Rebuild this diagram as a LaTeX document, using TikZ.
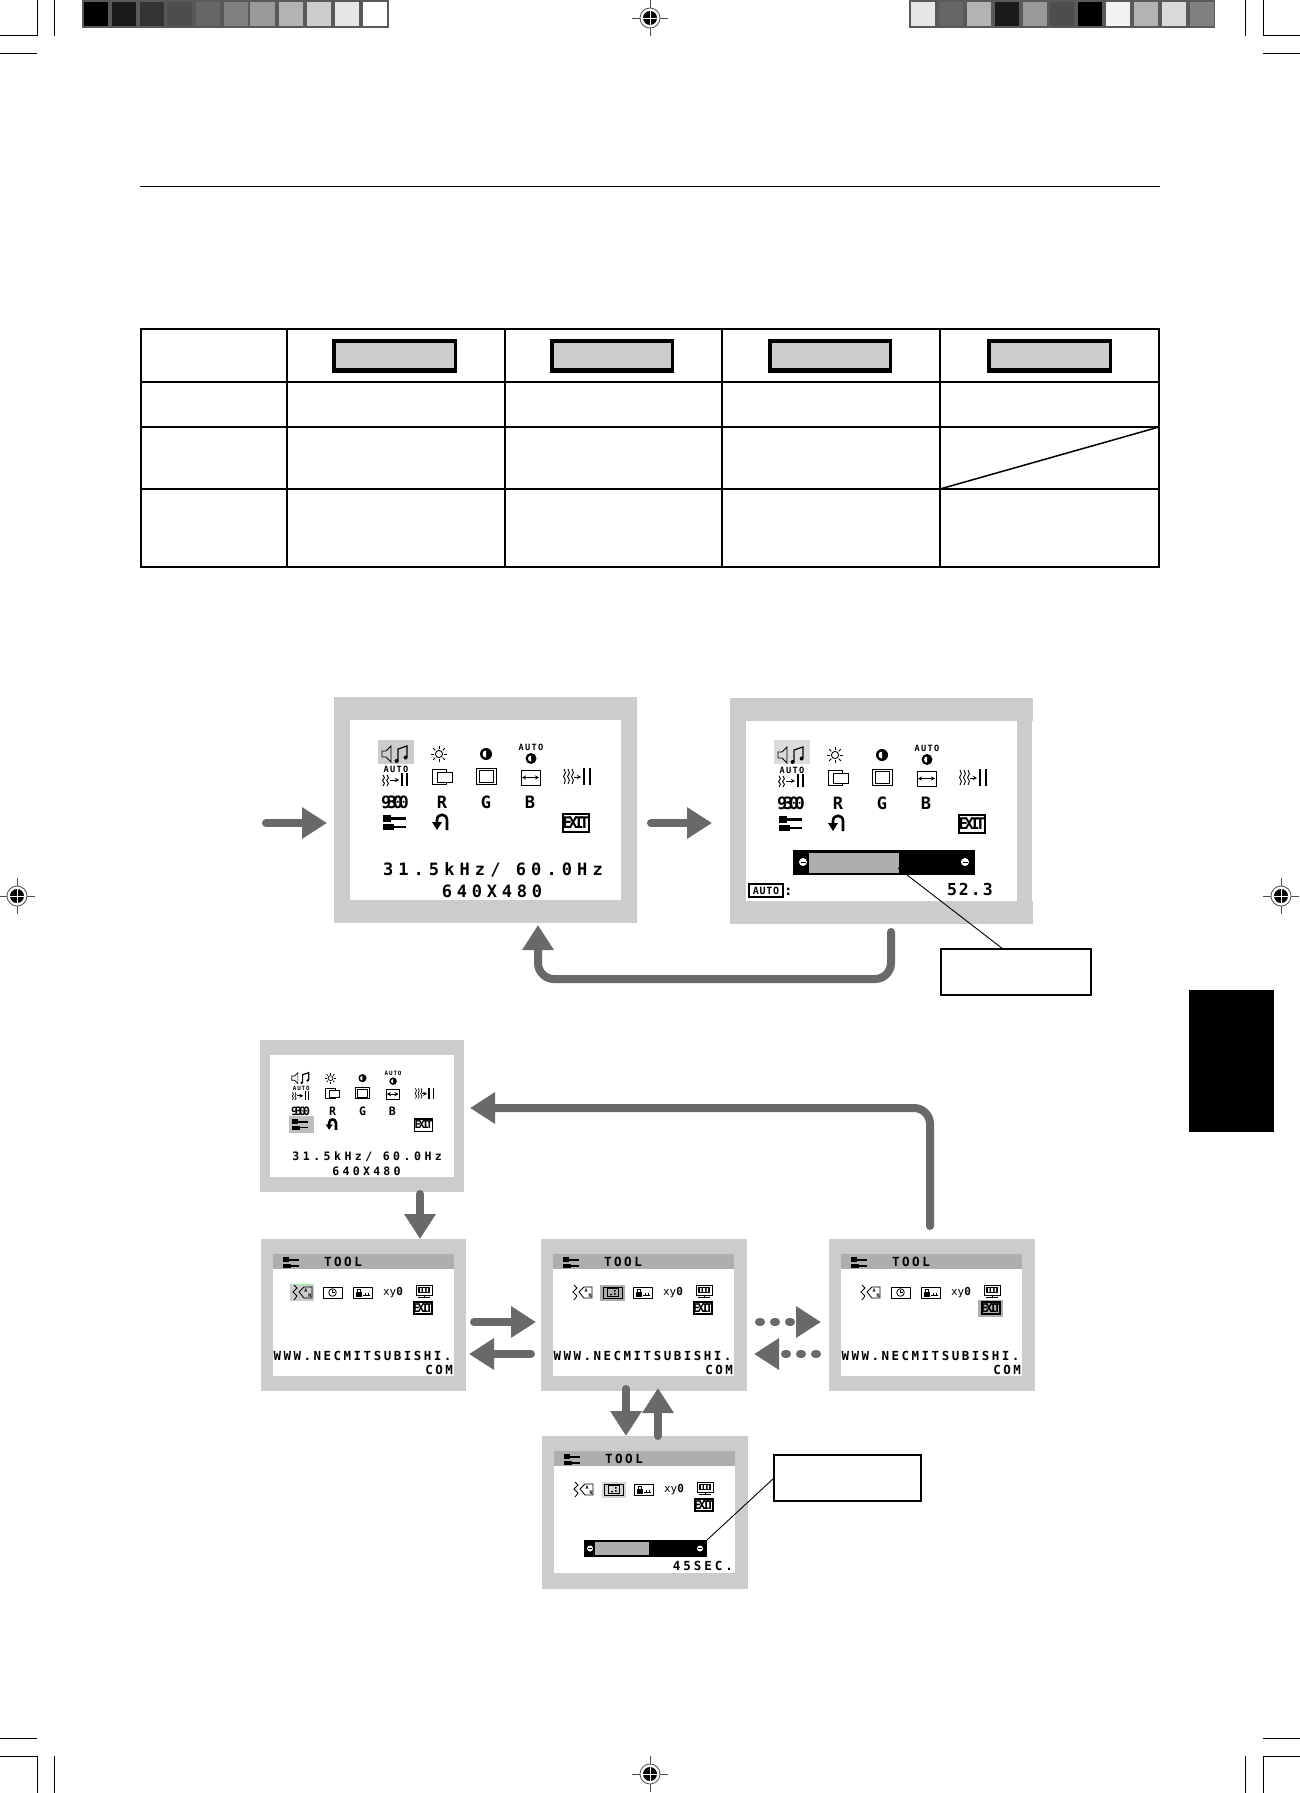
\documentclass[tikz,border=0pt]{standalone}
\usepackage{fontspec}
\usetikzlibrary{arrows.meta}
\newfontfamily\osdf{DejaVu Sans Mono}
\newcommand\osd[3]{{\osdf\bfseries\addfontfeatures{LetterSpace=#2}\fontsize{#1}{#1}\selectfont #3}}
\definecolor{arrowgrey}{HTML}{696969}
\definecolor{panelgrey}{HTML}{CCCCCC}
\definecolor{bargrey}{HTML}{AEAEAE}
\tikzset{
  panel/.style={fill=panelgrey,anchor=north west,inner sep=0pt,outer sep=0pt,minimum width=#1},
  screen/.style={fill=white},
  ico/.style={line width=.9pt,black},
  txt/.style={inner sep=0pt,outer sep=0pt,anchor=base,text=black},
  txtw/.style={inner sep=0pt,outer sep=0pt,anchor=base west,text=black},
  txte/.style={inner sep=0pt,outer sep=0pt,anchor=base east,text=black},
  flow/.style={draw=arrowgrey,line width=8pt,line cap=round,-{Triangle[length=25pt,width=30pt,fill=arrowgrey]}},
  dotflow/.style={flow,dash pattern=on 2pt off 13pt},
  callout/.style={draw=black,line width=1.5pt,fill=white,anchor=north west,inner sep=0pt,outer sep=0pt},
  leader/.style={draw=black,line width=.9pt},
  slider/.style={fill=black,anchor=north west,inner sep=0pt,outer sep=0pt},
  tbl/.style={line width=2pt,black},
  tblv/.style={line width=1.4pt,black},
  crop/.style={line width=1pt,black},
}
\newcommand\wv[3]{\draw[ico] (#1,#2)--++(1.4,#3/4)--++(-1.8,#3/4)--++(1.8,#3/4)--++(-1.4,#3/4);}
\newcommand\wrench[3]{\begin{scope}[shift={(#1,#2)},scale=#3]
  \fill[black] (0,.5) rectangle (8,7.5);
  \fill[black] (8,2.6) rectangle (23,5.6);
  \fill[black] (0,10) rectangle (11,16);
  \fill[black] (11,12) rectangle (23,14);
\end{scope}}
\newcommand\exitbox[6]{% x0 y0 x1 y1 size ls
  \draw[line width=1.2pt,black] (#1,#2) rectangle (#3,#4);
  \node[txt] (exit) at ({(#1+#3)/2},{(#2+#4)/2+.36*#5}) {\osd{#5}{#6}{EXIT}};}
\newcommand\menuicons{%
  \draw[ico] (32,31)--(36,31)--(41,26)--(41,42)--(36,37)--(32,37)--cycle;
  \draw[ico,line width=1.2pt] (48,41)--(48,29)--(57,26)--(57,37);
  \fill[black] (46.6,41) circle[radius=2pt] (55.6,37.5) circle[radius=2pt];
  \draw[ico] (89,34) circle[radius=3.6pt];
  \foreach \a in {0,45,...,315} \draw[ico] (89,34) ++(\a:5.2) -- ++(\a:3);
  \fill[black] (136,34) circle[radius=6pt];
  \fill[white] (136,30.5) arc[start angle=90,end angle=270,radius=3.5pt] -- cycle;
  \node[txt] (autoa) at (181,30) {\osd{8.6}{15}{AUTO}};
  \fill[black] (181,38.5) circle[radius=5.5pt];
  \fill[white] (181,35.5) arc[start angle=90,end angle=270,radius=3pt] -- cycle;
  \node[txt] (autob) at (46,52.7) {\osd{8.6}{15}{AUTO}};
  \wv{33}{55}{11}\wv{37}{55}{11}
  \draw[ico,-{Stealth[length=4pt,width=4pt]}] (40,60)--(49,60);
  \draw[ico,line width=1.3pt] (52,53)--(52,66) (57,53)--(57,66);
  \draw[ico] (82,49) rectangle (96,64);
  \draw[ico,fill=white] (87,52) rectangle (102,62);
  \draw[ico] (126,48) rectangle (146,64);
  \draw[ico] (129,50) rectangle (143,62);
  \draw[ico] (171,50) rectangle (190,65);
  \draw[ico,{Stealth[length=4pt,width=4pt]}-{Stealth[length=4pt,width=4pt]}] (172,57.5)--(189,57.5);
  \wv{214}{49}{15}\wv{218}{49}{15}\wv{222}{49}{15}
  \draw[ico,-{Stealth[length=4pt,width=4pt]}] (224,57)--(231,57);
  \draw[ico,line width=1.3pt] (234,48)--(234,65) (240,48)--(240,65);
  \node[txt] (nineK) at (45,88.3) {\osd{17}{-26}{9300}};
  \node[txt] (r) at (92,88.3) {\osd{17}{0}{R}};
  \node[txt] (g) at (136,88.3) {\osd{17}{0}{G}};
  \node[txt] (b) at (180,88.3) {\osd{17}{0}{B}};
  \wrench{33}{94}{1}
  \draw[black,line width=2.6pt] (97,110)--(97,100) .. controls (97,93) and (87,93) .. (87,100)--(87,103);
  \fill[black] (82,102)--(92,102)--(87,110)--cycle;
  \exitbox{213}{94}{239}{112}{16}{-25}
}
\newcommand\toolicons[1]{%
  \fill[bargrey] (0,0) rectangle (181,15);
  \wrench{10}{3}{.7}
  \node[txtw] (tooltitle) at (51,12.7) {\osd{12.6}{20}{TOOL}};
  \toolrow{#1}
  \node[txtw] (www) at (.5,106.7) {\osd{12.5}{20}{WWW.NECMITSUBISHI.}};
  \node[txte] (com) at (180,120) {\osd{12.5}{20}{COM}};
}
\newcommand\toolrow[1]{%
  \draw[ico,line width=.8pt] (21,31)--(24,34)--(20,38)--(24,42)--(21,46);
  \draw[ico,line width=.8pt] (39,33)--(31,33)--(26,38)--(31,44)--(39,44)--cycle;
  \node[txt] (la) at (33,38) {\osd{5}{0}{A}};
  \node[txt] (ln) at (37,43) {\osd{5}{0}{N}};
  \draw[ico,line width=.8pt] (50,33) rectangle (69,44);
  #1
  \draw[ico,line width=.8pt] (80,33) rectangle (99,44);
  \fill[black] (83,38) rectangle (89,43);
  \draw[ico,line width=.8pt] (84.5,38)--(84.5,35.5)--(87.5,35.5)--(87.5,38);
  \draw[ico,line width=.8pt] (90,41)--(97,41) (92,38.5)--(92,41) (95,38.5)--(95,41);
  \node[txt] (xyo) at (120,41.7) {{\osdf\fontsize{11}{11}\selectfont xy\bfseries 0}};
  \draw[ico,line width=.8pt] (143,31) rectangle (159,41);
  \fill[black] (145,33) rectangle (157,39);
  \fill[white] (147,34) rectangle (148.5,38) (150,34) rectangle (152,38) (153.5,34) rectangle (155,38);
  \draw[ico,line width=.8pt] (151,41)--(151,43) (145,43.6)--(157,43.6);
  \exitbox{141}{48}{159}{60}{12}{-25}
}
\newcommand\clockplain{\draw[ico,line width=.8pt] (59.5,38.5) circle[radius=3.8pt];
  \draw[ico,line width=.8pt] (59.5,36)--(59.5,38.5)--(62,38.5);}
\newcommand\clockalt{\draw[ico,line width=.8pt] (54,34.5) rectangle (65,42.5);
  \fill[black] (61,36) rectangle (62.5,37.5) (61,39) rectangle (62.5,40.5) (57,40) rectangle (59,41);}
\newcommand\regmark[2]{\begin{scope}[shift={(#1,#2)}]
  \draw[line width=.8pt,black!70] (-18,0)--(18,0) (0,-18)--(0,18);
  \draw[line width=.8pt,black!70,fill=white] (0,0) circle[radius=10pt];
  \fill[black] (0,0) circle[radius=7pt];
  \draw[white,line width=.9pt] (-7,0)--(7,0) (0,-7)--(0,7);
\end{scope}}
\begin{document}
\begin{tikzpicture}[x=1pt,y=-1pt]
\useasboundingbox (0,0) rectangle (1300,1793);
\fill[white] (0,0) rectangle (1300,1793);
% crop marks
\draw[crop] (0,36)--(37,36)--(37,0) (54,0)--(54,36) (0,54)--(37,54);
\draw[crop] (1300,36)--(1263,36)--(1263,0) (1245,0)--(1245,36) (1300,54)--(1263,54);
\draw[crop] (0,1756)--(37,1756)--(37,1793) (54,1793)--(54,1756) (0,1738)--(37,1738);
\draw[crop] (1300,1756)--(1263,1756)--(1263,1793) (1245,1793)--(1245,1756) (1300,1738)--(1263,1738);
\regmark{650}{18}\regmark{650}{1774}\regmark{17}{896}\regmark{1281}{896}
% colour bars
\fill[black!65] (82,0) rectangle (389,28);
\foreach \x/\c in {83.5/000000,111.6/1A1A1A,139.7/333333,167.4/4D4D4D,195.5/666666,223.7/808080,250.4/999999,278.6/B3B3B3,306.7/CCCCCC,334.8/E6E6E6,363/FFFFFF}{
  \definecolor{sw}{HTML}{\c}\fill[sw] (\x,2) rectangle ++(24.3,24);}
\fill[black!65] (909,0) rectangle (1215,28);
\foreach \x/\c in {911/E6E6E6,939/666666,967/B3B3B3,995/1A1A1A,1023/999999,1050/4D4D4D,1078/000000,1106/F2F2F2,1134/B3B3B3,1162/D9D9D9,1190/808080}{
  \definecolor{sw}{HTML}{\c}\fill[sw] (\x,2) rectangle ++(24.3,24);}
% rule
\draw[line width=1pt,black] (140,186)--(1160,186);
% table
\foreach \x/\xb in {332/457,550/674,768/892,987/1112}{
  \fill[black] (\x,339) rectangle (\xb,373);
  \fill[panelgrey] (\x+3.5,343) rectangle (\xb-3.5,368);}
\draw[tbl] (141,329) rectangle (1159,567);
\draw[tbl] (141,382)--(1159,382) (141,427)--(1159,427) (141,489)--(1159,489);
\draw[tblv] (287,329)--(287,567) (505,329)--(505,567) (722,329)--(722,567) (940,329)--(940,567);
\draw[line width=1.5pt,black] (940,489)--(1159,427);
% black tab
\fill[black] (1189,990) rectangle (1274,1132);
% panels
\node[panel=303pt,minimum height=226pt] (pA) at (334,697) {};
\node[panel=303pt,minimum height=226pt] (pB) at (730,698) {};
\node[panel=204pt,minimum height=152pt] (pC) at (260,1040) {};
\node[panel=205pt,minimum height=152pt] (pD) at (261,1239) {};
\node[panel=206pt,minimum height=152pt] (pE) at (541,1239) {};
\node[panel=206pt,minimum height=152pt] (pF) at (829,1239) {};
\node[panel=206pt,minimum height=153pt] (pG) at (542,1436) {};
% panel A
\begin{scope}[shift={(350,720)},name prefix=a-]
  \fill[screen] (0,0) rectangle (271,180);
  \fill[panelgrey] (28,20) rectangle (64,44);
  \menuicons
  \node[txtw] (freq) at (33,155.3) {\osd{17}{30}{31.5kHz/ 60.0Hz}};
  \node[txt] (res) at (142,177.7) {\osd{17}{28}{640X480}};
\end{scope}
% panel B
\begin{scope}[shift={(746,721)},name prefix=b-]
  \fill[screen] (0,0) rectangle (271,180);
  \fill[white] (286,0) rectangle (287,180);
  \fill[panelgrey!70] (28,19) rectangle (64,43);
  \menuicons
\end{scope}
\node[slider,minimum width=182pt,minimum height=25pt] (sB) at (793,850) {};
\fill[bargrey] (809,853) rectangle (899,873);
\fill[white] (803,862) circle[radius=4pt] (965,862) circle[radius=4pt];
\draw[black,line width=1pt] (800.5,862)--(805.5,862) (962.5,862)--(967.5,862);
\draw[line width=1.3pt,black] (749,884) rectangle (783,897);
\node[txt] (autoC) at (766,894.5) {\osd{10}{8}{AUTO}};
\node[txtw] (colon) at (784,895) {\osd{14}{0}{:}};
\node[txtw] (valB) at (947,895) {\osd{16.5}{12}{52.3}};
% panel C
\begin{scope}[shift={(270,1055)},scale=.68,transform shape,name prefix=c-,ico/.style={line width=.7pt,black}]
  \fill[screen] (0,0) rectangle (271,180);
  \fill[bargrey!80] (28,90) rectangle (65,115);
  \menuicons
  \node[txtw] (freq) at (33,155.3) {\osd{17}{30}{31.5kHz/ 60.0Hz}};
  \node[txt] (res) at (142,177.7) {\osd{17}{28}{640X480}};
\end{scope}
% panel D
\begin{scope}[shift={(273,1254)},name prefix=d-]
  \fill[screen] (0,0) rectangle (181,122);
  \fill[panelgrey] (17,30) rectangle (41,47);
  \draw[line width=.8pt,green!45!white] (18,30)--(41,30);
  \toolicons{\clockplain}
\end{scope}
% panel E
\begin{scope}[shift={(553,1254)},name prefix=e-]
  \fill[screen] (0,0) rectangle (181,122);
  \fill[bargrey] (47,31) rectangle (72,47);
  \toolicons{\clockalt}
\end{scope}
% panel F
\begin{scope}[shift={(841,1254)},name prefix=f-]
  \fill[screen] (0,0) rectangle (181,122);
  \fill[bargrey] (137,46) rectangle (162,63);
  \toolicons{\clockplain}
  \draw[line width=1.8pt,black] (141,48) rectangle (159,60);
\end{scope}
% panel G
\begin{scope}[shift={(554,1451)},name prefix=g-]
  \fill[screen] (0,0) rectangle (181,122);
  \fill[panelgrey!80] (48,31) rectangle (72,47);
  \fill[bargrey] (0,0) rectangle (181,15);
  \wrench{10}{3}{.7}
  \node[txtw] (tooltitle) at (51,12.7) {\osd{12.6}{20}{TOOL}};
  \toolrow{\clockalt}
\end{scope}
\node[slider,minimum width=123pt,minimum height=17pt] (sG) at (584,1540) {};
\fill[bargrey] (595,1542) rectangle (649,1555);
\fill[white] (590,1548.5) circle[radius=3pt] (700,1548.5) circle[radius=3pt];
\draw[black,line width=.8pt] (588.3,1548.5)--(591.7,1548.5) (698.3,1548.5)--(701.7,1548.5);
\node[txte] (secG) at (733,1570) {\osd{12.5}{24}{45SEC.}};
% callouts and leaders
\node[callout,minimum width=150pt,minimum height=46pt] (cA) at (941,949) {};
\node[callout,minimum width=147pt,minimum height=46pt] (cG) at (774,1455) {};
\coordinate (lA) at (898,868);
\draw[leader] (lA) -- ([xshift=-13pt]cA.north);
\draw[leader] (sG.north east) -- (cG.west);
% arrows
\coordinate (inS) at (266,823);
\draw[flow] (inS) -- ([xshift=-7pt,yshift=-13pt]pA.west);
\draw[flow] ([xshift=14pt,yshift=-13pt]pA.east) -- ([xshift=-18pt,yshift=-12pt]pB.west);
\coordinate (uA) at (891,979);
\coordinate (uB) at (538,979);
\draw[flow,rounded corners=16pt] ([xshift=9.5pt,yshift=-8pt]pB.south) -- (uA) -- (uB) -- ([xshift=52.5pt,yshift=-2pt]pA.south);
\draw[flow] ([xshift=58pt,yshift=-2pt]pC.south) -- ([xshift=56.5pt]pD.north);
\coordinate (vA) at (930,1108);
\draw[flow,rounded corners=16pt] ([xshift=-2pt,yshift=13pt]pF.north) -- (vA) -- ([xshift=6pt,yshift=8pt]pC.east);
\draw[flow] ([xshift=8pt,yshift=-7pt]pD.east) -- ([xshift=-5pt,yshift=-7pt]pE.west);
\draw[flow] ([xshift=-10pt,yshift=-39pt]pE.west) -- ([xshift=3pt,yshift=-39pt]pD.east);
\draw[dotflow] ([xshift=12pt,yshift=-7pt]pE.east) -- ([xshift=-8pt,yshift=-7pt]pF.west);
\draw[dotflow] ([xshift=-12pt,yshift=-39pt]pF.west) -- ([xshift=7pt,yshift=-39pt]pE.east);
\draw[flow] ([xshift=-18pt,yshift=2pt]pE.south) -- ([xshift=-19pt]pG.north);
\draw[flow] ([xshift=13pt]pG.north) -- ([xshift=14pt,yshift=3pt]pE.south);
\end{tikzpicture}
\end{document}
